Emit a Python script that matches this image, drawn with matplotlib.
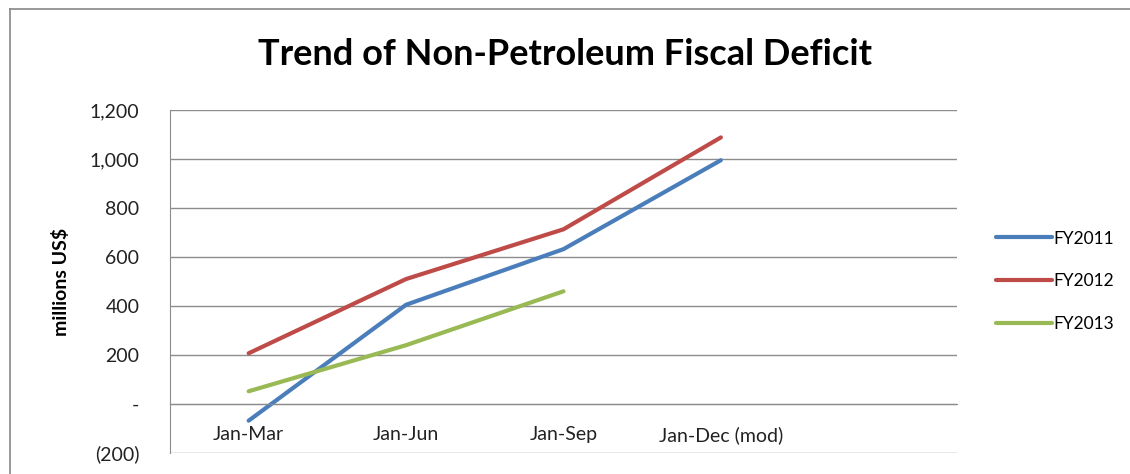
import matplotlib
matplotlib.use('Agg')
import matplotlib.pyplot as plt
from matplotlib.ticker import FuncFormatter
from matplotlib.lines import Line2D

plt.rcParams['font.family'] = ['Lato', 'DejaVu Sans']

periods = ['Jan-Mar', 'Jan-Jun', 'Jan-Sep', 'Jan-Dec (mod)']
fy2011 = [-68, 405, 632, 995]
fy2012 = [207, 510, 713, 1088]
fy2013 = [52, 240, 460]

fig = plt.figure(figsize=(11.3, 4.74), dpi=100)
ax = fig.add_axes([0.1504, 0.0443, 0.6965, 0.7237])

x = list(range(1, len(periods) + 1))
ax.plot(x, fy2011, color='#4A7EBB', lw=3, label='FY2011', solid_capstyle='round')
ax.plot(x, fy2012, color='#BE4B48', lw=3, label='FY2012', solid_capstyle='round')
ax.plot(x[:len(fy2013)], fy2013, color='#98B954', lw=3, label='FY2013', solid_capstyle='round')

ax.spines['top'].set_visible(False)
ax.spines['right'].set_visible(False)
ax.spines['bottom'].set_position(('data', 0))
ax.spines['bottom'].set_color('#8C8C8C')
ax.spines['left'].set_color('#8C8C8C')

ax.set_xlim(0.5, 5.5)
ax.set_ylim(-200, 1200)
ax.set_yticks(range(-200, 1201, 200))
ax.set_xticks(x)
ax.set_xticklabels(periods)

def fmt(v, pos):
    if v == 0:
        return '-'
    if v < 0:
        return '({:,.0f})'.format(-v)
    return '{:,.0f}'.format(v)

ax.yaxis.set_major_formatter(FuncFormatter(fmt))
ax.tick_params(axis='y', length=0, pad=22, labelsize=14, labelcolor='#222222')
ax.tick_params(axis='x', length=0, pad=16, labelsize=14, labelcolor='#222222')

ax.grid(axis='y', color='#8C8C8C', lw=1)
ax.set_axisbelow(True)

ax.set_ylabel('millions US$', fontsize=14, fontweight='bold', labelpad=14)

fig.text(0.5, 0.884, 'Trend of Non-Petroleum Fiscal Deficit', ha='center', va='center',
         fontsize=26, fontweight='bold')

ax.legend(loc='center left', bbox_to_anchor=(1.03, 0.5), frameon=False, fontsize=12.5,
          handlelength=3.2, handletextpad=0.1, labelspacing=1.55)

# chart border (top and left)
fig.add_artist(Line2D([10 / 1130, 1], [1 - 9 / 474, 1 - 9 / 474], color='#888888', lw=1.2))
fig.add_artist(Line2D([10 / 1130, 10 / 1130], [0, 1 - 9 / 474], color='#888888', lw=1.2))

fig.savefig('out.png', dpi=100)
